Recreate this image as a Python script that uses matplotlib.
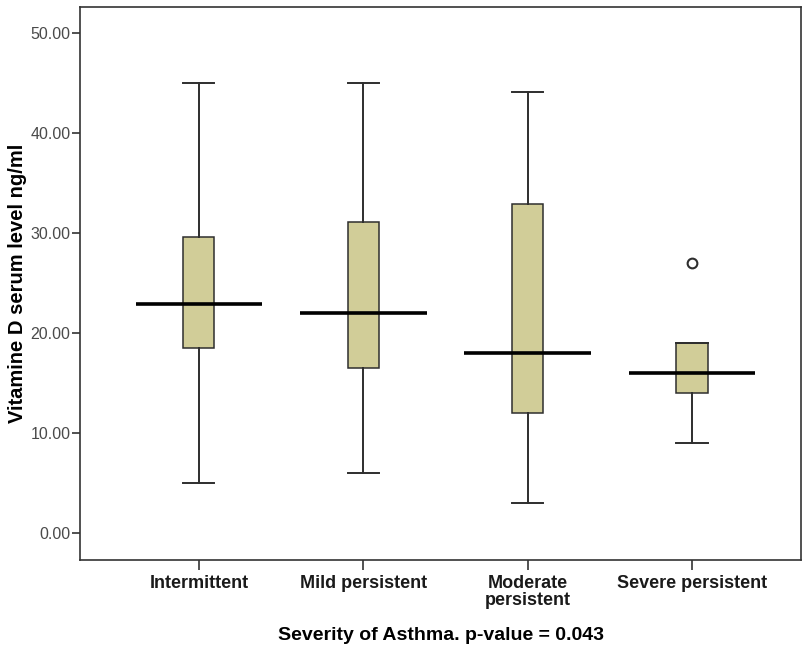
"""Vitamin D serum level by asthma severity - SPSS-style boxplot."""
import matplotlib
matplotlib.use("Agg")
import matplotlib.pyplot as plt
from matplotlib.ticker import FormatStrFormatter

# --- data --------------------------------------------------------------------
CATEGORIES = ["Intermittent", "Mild persistent", "Moderate\npersistent", "Severe persistent"]
WHISKER_LOW = [5.0, 6.0, 3.0, 9.0]
Q1 = [18.5, 16.5, 12.0, 14.0]
MEDIAN = [22.9, 22.0, 18.0, 16.0]
Q3 = [29.6, 31.1, 32.9, 19.0]
WHISKER_HIGH = [45.0, 45.0, 44.1, 19.0]
OUTLIERS = [[], [], [], [27.0]]
Y_TICKS = [0, 10, 20, 30, 40, 50]

FILL = "#D1CD98"
EDGE = "#2E2E2E"
FONT = "Liberation Sans"


def main():
    fig = plt.figure(figsize=(8.04, 6.48), dpi=100)
    ax = fig.add_axes([0.0995, 0.1358, 0.8968, 0.8532])

    stats = []
    for i in range(len(CATEGORIES)):
        stats.append(dict(med=MEDIAN[i], q1=Q1[i], q3=Q3[i],
                          whislo=WHISKER_LOW[i], whishi=WHISKER_HIGH[i],
                          fliers=OUTLIERS[i]))
    pos = list(range(1, len(CATEGORIES) + 1))

    ax.bxp(stats, positions=pos, widths=0.19, patch_artist=True,
           boxprops=dict(facecolor=FILL, edgecolor=EDGE, linewidth=1.1),
           whiskerprops=dict(color=EDGE, linewidth=1.4),
           capprops=dict(color=EDGE, linewidth=1.4),
           medianprops=dict(linewidth=0),
           flierprops=dict(marker="o", markersize=7, markerfacecolor="white",
                           markeredgecolor=EDGE, markeredgewidth=1.5),
           capwidths=0.19, zorder=3)

    # SPSS draws the median as a long bar reaching past the box
    ax.hlines(MEDIAN, [p - 0.385 for p in pos], [p + 0.385 for p in pos],
              colors="black", linewidth=2.6, zorder=4)

    ax.set_xlim(0.277, 4.663)
    ax.set_ylim(-2.73, 52.6)
    ax.set_yticks(Y_TICKS)
    ax.yaxis.set_major_formatter(FormatStrFormatter("%.2f"))
    ax.set_xticks(pos)
    ax.set_xticklabels(CATEGORIES, fontfamily=FONT, fontweight="bold",
                       fontsize=13, color="#1a1a1a", linespacing=0.95)
    for lab in ax.get_yticklabels():
        lab.set_fontfamily(FONT)
        lab.set_fontsize(11.5)
        lab.set_color("#4a4a4a")

    ax.tick_params(axis="y", length=6, width=1.2, color="#333333", pad=1)
    ax.tick_params(axis="x", length=7, width=1.2, color="#333333", pad=4)
    for sp in ax.spines.values():
        sp.set_color("#333333")
        sp.set_linewidth(1.2)

    ax.set_ylabel("Vitamine D serum level ng/ml", fontfamily=FONT,
                  fontweight="bold", fontsize=14.5, labelpad=2)
    ax.set_xlabel("Severity of Asthma. p-value = 0.043", fontfamily=FONT,
                  fontweight="bold", fontsize=14, labelpad=13)

    fig.savefig("out.png", dpi=100, facecolor="white")


if __name__ == "__main__":
    main()
